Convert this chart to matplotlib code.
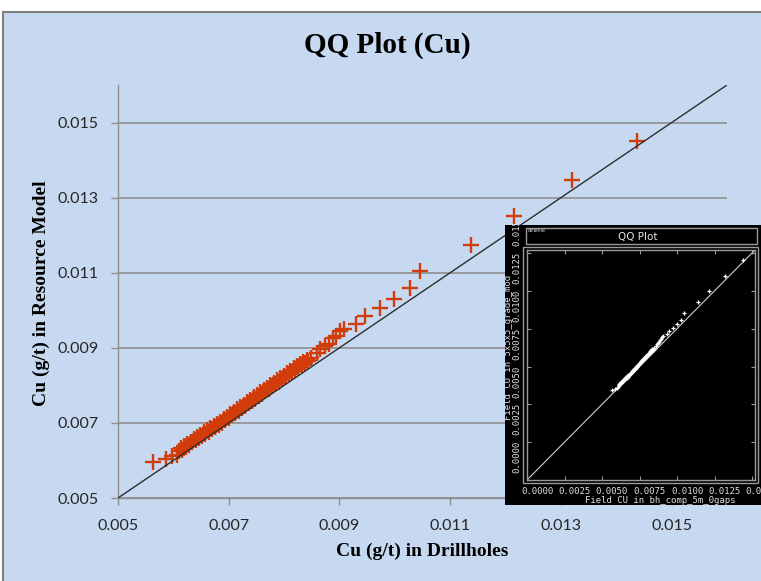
import matplotlib
matplotlib.use("Agg")
import matplotlib.pyplot as plt
from matplotlib.patches import Rectangle
from matplotlib import transforms

W, H = 761, 581

# Quantile pairs: Cu grade in drillholes (x) vs resource model (y)
cu_drillholes = [
    0.00564, 0.00586, 0.00598, 0.00606,
    0.00610, 0.00613, 0.00616, 0.00619, 0.00622, 0.00625, 0.00628, 0.00631,
    0.00634, 0.00637, 0.00640, 0.00643, 0.00646, 0.00649, 0.00652, 0.00655,
    0.00658, 0.00661, 0.00664, 0.00667, 0.00670, 0.00673, 0.00676, 0.00679,
    0.00682, 0.00685, 0.00688, 0.00691, 0.00694, 0.00697, 0.00700, 0.00703,
    0.00706, 0.00709, 0.00712, 0.00715, 0.00718, 0.00721, 0.00724, 0.00727,
    0.00730, 0.00733, 0.00736, 0.00739, 0.00742, 0.00745, 0.00748, 0.00751,
    0.00754, 0.00757, 0.00760, 0.00763, 0.00766, 0.00769, 0.00772, 0.00775,
    0.00778, 0.00781, 0.00784, 0.00787, 0.00790, 0.00793, 0.00796, 0.00799,
    0.00802, 0.00805, 0.00808, 0.00811, 0.00814, 0.00817, 0.00820, 0.00823,
    0.00826, 0.00829, 0.00832, 0.00835, 0.00838, 0.00841, 0.00844,
    0.00848, 0.00859, 0.00865, 0.00874, 0.00881, 0.00889, 0.00893, 0.00901,
    0.00909, 0.00930, 0.00947, 0.00974, 0.00999, 0.01027, 0.01046, 0.01137,
    0.01215, 0.01320, 0.01437,
]
cu_model = [
    0.00595, 0.00603, 0.00611, 0.00615,
    0.00625, 0.00633, 0.00629, 0.00638, 0.00636, 0.00645, 0.00642, 0.00650,
    0.00648, 0.00657, 0.00654, 0.00662, 0.00660, 0.00668, 0.00666, 0.00675,
    0.00671, 0.00680, 0.00677, 0.00686, 0.00683, 0.00691, 0.00689, 0.00697,
    0.00695, 0.00703, 0.00701, 0.00710, 0.00707, 0.00716, 0.00714, 0.00723,
    0.00720, 0.00729, 0.00726, 0.00736, 0.00733, 0.00742, 0.00739, 0.00749,
    0.00745, 0.00755, 0.00752, 0.00761, 0.00758, 0.00768, 0.00764, 0.00774,
    0.00771, 0.00781, 0.00777, 0.00787, 0.00784, 0.00794, 0.00790, 0.00800,
    0.00797, 0.00806, 0.00803, 0.00813, 0.00810, 0.00819, 0.00816, 0.00826,
    0.00823, 0.00832, 0.00829, 0.00838, 0.00835, 0.00845, 0.00842, 0.00851,
    0.00848, 0.00857, 0.00854, 0.00863, 0.00860, 0.00868, 0.00866,
    0.00872, 0.00885, 0.00896, 0.00904, 0.00911, 0.00925, 0.00931, 0.00944,
    0.00950, 0.00964, 0.00984, 0.01005, 0.01031, 0.01060, 0.01105, 0.01175,
    0.01250, 0.01346, 0.01452,
]

axis_limits = [0.005, 0.016]
main_ticks = [0.005, 0.007, 0.009, 0.011, 0.013, 0.015]
main_tick_labels = ["0.005", "0.007", "0.009", "0.011", "0.013", "0.015"]

inset_limits = [0.0, 0.0152]
inset_ticks = [0.0, 0.0025, 0.005, 0.0075, 0.01, 0.0125, 0.015]
inset_tick_labels = ["0.0000", "0.0025", "0.0050", "0.0075", "0.0100", "0.0125", "0.0150"]

BLUE = "#C6D9F0"
RED = "#D23C0A"
GRID = "#8E8E8E"


def px_box(x0, y0, x1, y1):
    """Convert a pixel box (top-left origin) into figure fractions."""
    return [x0 / W, 1 - y1 / H, (x1 - x0) / W, (y1 - y0) / H]


fig = plt.figure(figsize=(W / 100, H / 100), dpi=100, facecolor="white")

# Chart area panel (behind everything)
fig.patches.append(Rectangle((3 / W, -0.1), 1.2, 1 - 12 / H + 0.1,
                             transform=fig.transFigure, facecolor=BLUE,
                             edgecolor="#7F7F7F", linewidth=1.5, zorder=-5))

# ---- main QQ plot ----
ax = fig.add_axes(px_box(118, 85, 727, 498), zorder=1)
ax.patch.set_alpha(0)
ax.set_xlim(axis_limits)
ax.set_ylim(axis_limits)
ax.set_xticks(main_ticks)
ax.set_xticklabels(main_tick_labels)
ax.set_yticks(main_ticks)
ax.set_yticklabels(main_tick_labels)
for s in ["top", "right"]:
    ax.spines[s].set_visible(False)
for s in ["left", "bottom"]:
    ax.spines[s].set_color(GRID)
    ax.spines[s].set_linewidth(1.0)
ax.yaxis.grid(True, color=GRID, linewidth=1.2)
ax.set_axisbelow(True)
ax.tick_params(axis="both", direction="out", length=5, width=1, color=GRID,
               labelsize=11.5, labelcolor="#262626")
ax.tick_params(axis="x", pad=10)
ax.tick_params(axis="y", pad=9)
for lab in ax.get_xticklabels() + ax.get_yticklabels():
    lab.set_family("Lato")

ax.plot(cu_drillholes, cu_model, linestyle="none", marker="+", markersize=11,
        markeredgewidth=1.7, color=RED, zorder=3)
# 1:1 reference line drawn over the markers
ax.plot(axis_limits, axis_limits, color="#2E2E2E", linewidth=1.0, zorder=4)

fig.text(387 / W, 1 - 45 / H, "QQ Plot (Cu)", ha="center", va="center",
         family="Liberation Serif", fontweight="bold", fontsize=21)
fig.text(422 / W, 1 - 551 / H, "Cu (g/t) in Drillholes", ha="center", va="center",
         family="Liberation Serif", fontweight="bold", fontsize=14)
fig.text(41 / W, 1 - 293 / H, "Cu (g/t) in Resource Model", ha="center", va="center",
         rotation=90, family="Liberation Serif", fontweight="bold", fontsize=14)

# ---- inset: Datamine QQ plot ----
black_box = Rectangle((505 / W, 1 - 505 / H), 1, 280 / H,
                      transform=fig.transFigure, facecolor="black",
                      edgecolor="none", zorder=5)
fig.patches.append(black_box)
fig.patches.append(Rectangle((526 / W, 1 - 244 / H), 231 / W, 16 / H,
                             transform=fig.transFigure, facecolor="none",
                             edgecolor="#9A9A9A", linewidth=1.0, zorder=6))
fig.patches.append(Rectangle((523 / W, 1 - 483 / H), 235 / W, 236 / H,
                             transform=fig.transFigure, facecolor="none",
                             edgecolor="#9A9A9A", linewidth=1.0, zorder=6))
fig.text(638 / W, 1 - 237 / H, "QQ Plot", ha="center", va="center", color="#E6E6E6",
         family="DejaVu Sans", fontsize=7.5, zorder=7)
fig.text(528 / W, 1 - 231 / H, "DATAMINE", ha="left", va="center", color="#DDDDDD",
         family="DejaVu Sans", fontsize=2.6, zorder=7)

axi = fig.add_axes(px_box(527, 250, 755, 480), zorder=8)
axi.set_facecolor("black")
axi.set_xlim(inset_limits)
axi.set_ylim(inset_limits)
for s in axi.spines.values():
    s.set_color("#9A9A9A")
    s.set_linewidth(1.0)
axi.set_xticks(inset_ticks)
axi.set_yticks(inset_ticks)
axi.tick_params(axis="both", direction="in", length=3, width=0.8, color="#9A9A9A",
                top=True, right=True, labelbottom=False, labelleft=False)
axi.plot(inset_limits, inset_limits, color="#CFCFCF", linewidth=0.8)
axi.plot(cu_drillholes, cu_model, linestyle="none", marker="+", markersize=3.2,
         markeredgewidth=0.9, color="white")

mono = dict(family="DejaVu Sans Mono", color="#E0E0E0", fontsize=6.5)
inset_texts = []
xtr = transforms.offset_copy(
    transforms.blended_transform_factory(axi.transData, axi.transAxes),
    fig=fig, x=7.2, y=0, units="points")
for v, t in zip(inset_ticks, inset_tick_labels):
    inset_texts.append(axi.text(v, -0.05, t, transform=xtr, ha="center", va="center", **mono))
ytr = transforms.offset_copy(
    transforms.blended_transform_factory(axi.transAxes, axi.transData),
    fig=fig, x=0, y=16.5, units="points")
for v, t in zip(inset_ticks, inset_tick_labels):
    inset_texts.append(axi.text(-0.046, v, t, transform=ytr, rotation=90,
                                ha="center", va="center", **mono))
inset_texts.append(axi.text(0.583, -0.09, "Field CU in bh_comp_5m_0gaps",
                            transform=axi.transAxes, ha="center", va="center", **mono))
inset_texts.append(axi.text(-0.080, 0.578, "Field CU in 5x5x5_grade_mod",
                            transform=axi.transAxes, rotation=90,
                            ha="center", va="center", **mono))
for t in inset_texts:
    t.set_clip_on(True)
    t.set_clip_path(black_box)

fig.savefig("out.png", dpi=100, facecolor="white")
